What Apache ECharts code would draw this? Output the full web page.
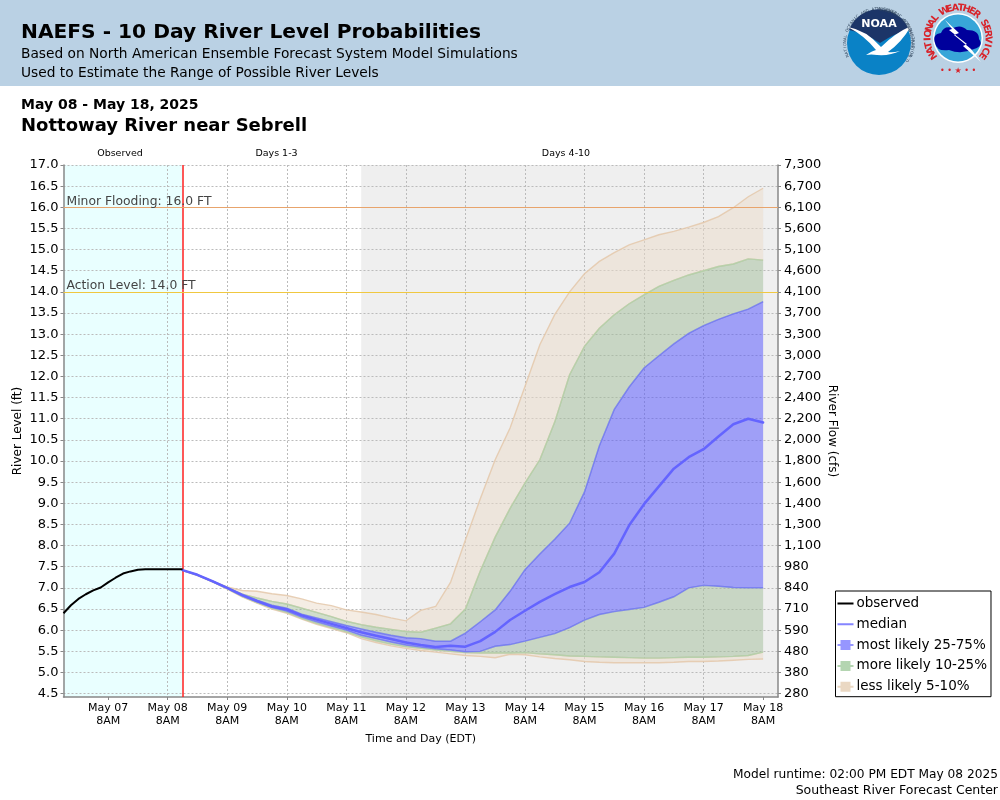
<!DOCTYPE html>
<html>
<head>
<meta charset="utf-8">
<title>NAEFS River Level Probabilities</title>
<style>
	html,body{margin:0;padding:0;background:#fff;}
	#chart{width:1000px;height:800px;}
</style>
<script src="https://cdn.jsdelivr.net/npm/echarts@6/dist/echarts.min.js"></script>
</head>
<body>
<div id="chart"></div>
<script>
// x values are hours after May 06 2PM
var dayTicks = [18,42,66,90,114,138,162,186,210,234,258,282];
var dayLabels = ['May 07','May 08','May 09','May 10','May 11','May 12','May 13','May 14','May 15','May 16','May 17','May 18'];

var levelTicks = [17,16.5,16,15.5,15,14.5,14,13.5,13,12.5,12,11.5,11,10.5,10,9.5,9,8.5,8,7.5,7,6.5,6,5.5,5,4.5];
var flowLabels = ['7,300','6,700','6,100','5,600','5,100','4,600','4,100','3,700','3,300','3,000','2,700','2,400','2,200','2,000','1,800','1,600','1,400','1,300','1,100','980','840','710','590','480','380','280'];

var obsHours = [0,3,6,9,12,15,18,21,24,27,30,33,36,39,42,45,48];
var obsLevel = [6.40,6.59,6.74,6.85,6.94,7.01,7.13,7.24,7.34,7.39,7.43,7.44,7.44,7.44,7.44,7.44,7.44];

var fcstHours = [48,54,60,66,72,78,84,90,96,102,108,114,120,126,132,138,144,150,156,162,168,174,180,186,192,198,204,210,216,222,228,234,240,246,252,258,264,270,276,282];
var median = [7.42,7.31,7.16,7.00,6.83,6.69,6.56,6.49,6.35,6.25,6.15,6.05,5.95,5.87,5.79,5.71,5.65,5.60,5.63,5.61,5.74,5.96,6.24,6.46,6.67,6.85,7.02,7.14,7.37,7.81,8.48,8.98,9.40,9.82,10.09,10.28,10.58,10.87,11.00,10.91];
var p5 = [7.41,7.29,7.14,6.97,6.79,6.64,6.50,6.40,6.26,6.14,6.04,5.94,5.80,5.71,5.63,5.57,5.52,5.48,5.44,5.40,5.38,5.35,5.43,5.42,5.37,5.33,5.30,5.26,5.24,5.23,5.23,5.23,5.23,5.24,5.26,5.26,5.27,5.29,5.31,5.32];
var p10 = [7.41,7.30,7.15,6.98,6.80,6.65,6.52,6.42,6.28,6.16,6.06,5.96,5.84,5.75,5.67,5.61,5.57,5.53,5.50,5.47,5.46,5.46,5.46,5.47,5.44,5.42,5.39,5.38,5.37,5.36,5.35,5.34,5.34,5.35,5.36,5.36,5.37,5.38,5.40,5.48];
var p25 = [7.42,7.30,7.15,6.99,6.81,6.67,6.54,6.45,6.31,6.20,6.10,6.00,5.88,5.80,5.72,5.65,5.60,5.56,5.53,5.49,5.50,5.62,5.66,5.74,5.83,5.92,6.06,6.24,6.37,6.44,6.49,6.54,6.66,6.79,7.00,7.06,7.04,7.01,7.00,7.00];
var p75 = [7.42,7.31,7.16,7.00,6.85,6.71,6.59,6.52,6.38,6.29,6.20,6.11,6.03,5.95,5.88,5.82,5.80,5.74,5.74,5.93,6.20,6.48,6.92,7.43,7.80,8.15,8.53,9.27,10.36,11.22,11.75,12.20,12.49,12.77,13.02,13.20,13.35,13.48,13.59,13.77];
var p90 = [7.42,7.31,7.16,7.01,6.85,6.76,6.68,6.62,6.52,6.42,6.32,6.21,6.13,6.07,6.02,5.97,5.95,6.05,6.15,6.50,7.40,8.20,8.88,9.48,10.03,10.92,12.04,12.71,13.14,13.46,13.72,13.93,14.13,14.27,14.40,14.50,14.60,14.66,14.78,14.75];
var p95 = [7.42,7.31,7.16,7.02,6.94,6.92,6.86,6.82,6.74,6.64,6.58,6.48,6.43,6.37,6.29,6.22,6.47,6.56,7.13,8.13,9.11,10.03,10.78,11.76,12.75,13.46,14.00,14.43,14.72,14.93,15.11,15.23,15.35,15.43,15.53,15.64,15.78,15.99,16.25,16.45];

var FONT = '"DejaVu Sans"';
var COLOR_BLUE = 'rgba(80,80,255,0.5)';
var COLOR_GREEN = 'rgba(161,189,153,0.5)';
var COLOR_TAN = 'rgba(235,219,201,0.5)';

var LINE_ICON = 'path://M0,0h.01v.01h-.01z M0,11.99h.01v.01h-.01z M0,5h16v2h-16z';
var BOX_ICON = 'path://M0,0h.01v.01h-.01z M0,11.99h.01v.01h-.01z M0,5h3v2h-3z M3,1h10v10h-10z M13,5h3v2h-3z';

var chartDom = document.getElementById('chart');
var myChart = echarts.init(chartDom);

//one shaded band between a low and a high array
function bandSeries(name, low, high, fill, stroke){
	var rows = fcstHours.map(function(hour, i){
		return [hour, low[i], high[i]];
	});
	return {
		name: name,
		type: 'custom',
		z: 2,
		silent: true,
		encode: {x: 0, y: [1, 2]},
		data: rows,
		renderItem: function(params, api){
			if(params.dataIndex !== 0){
				return null;
			}
			var lowPts = rows.map(function(r){ return api.coord([r[0], r[1]]); });
			var highPts = rows.map(function(r){ return api.coord([r[0], r[2]]); });
			return {
				type: 'group',
				children: [
					{type: 'polygon', shape: {points: highPts.concat(lowPts.slice().reverse())}, style: {fill: fill}},
					{type: 'polyline', shape: {points: highPts}, style: {fill: 'none', stroke: stroke, lineWidth: 1.4}},
					{type: 'polyline', shape: {points: lowPts}, style: {fill: 'none', stroke: stroke, lineWidth: 1.4}}
				]
			};
		}
	};
}

function pairs(xs, ys){
	return xs.map(function(x, i){ return [x, ys[i]]; });
}

function textEl(str, x, y, size, opts){
	opts = opts || {};
	return {
		type: 'text',
		x: x,
		y: y,
		silent: true,
		z: 20,
		style: {
			text: str,
			font: (opts.bold ? 'bold ' : '') + size + 'px ' + FONT,
			fill: opts.color || '#000',
			textAlign: opts.align || 'left',
			textVerticalAlign: 'middle'
		}
	};
}

//logo outlines, registered so the graphic component can use them by name
function logoShape(name, pathData, fill){
	echarts.graphic.registerShape(name, echarts.graphic.extendPath(pathData, {}));
	return {type: name, style: {fill: fill}, z: 21, silent: true};
}

//letters set one by one on a circle, angles in degrees from 12 o'clock
function ringText(str, cx, cy, r, startDeg, stepDeg, size, color, bold, inward){
	return str.split('').map(function(ch, i){
		var deg = startDeg + stepDeg * i;
		var rad = deg * Math.PI / 180;
		return {
			type: 'text',
			x: cx + r * Math.sin(rad),
			y: cy - r * Math.cos(rad),
			rotation: (inward ? 180 - deg : -deg) * Math.PI / 180,
			silent: true,
			z: 22,
			style: {
				text: ch,
				font: (bold ? 'bold ' : '') + size + 'px ' + FONT,
				fill: color,
				textAlign: 'center',
				textVerticalAlign: 'middle'
			}
		};
	});
}

function logos(){
	var nx = 879, ny = 43, wx = 958, wy = 38;
	var els = [
		//NOAA
		{type: 'circle', shape: {cx: nx, cy: ny, r: 32}, style: {fill: '#0a82c6'}, silent: true},
		logoShape('noaaSky', 'M849,30 A32,32 0 0 1 909,30 Q895,33 880,43 Q865,33 849,30 Z', '#1c3568'),
		logoShape('noaaBird', 'M848,27 Q866,30 881,47 Q895,33 911,26 Q902,42 888,52 Q892,53 900,51 Q890,56 877,55 Q871,54 866,55 Q872,51 876,50 Q865,36 848,27 Z', '#fff'),
		textEl('NOAA', nx, 24, 11, {bold: true, color: '#fff', align: 'center'}),
		//NWS
		{type: 'circle', shape: {cx: wx, cy: wy, r: 25}, style: {fill: '#fff'}, silent: true},
		{type: 'circle', shape: {cx: wx, cy: wy, r: 23.5}, style: {fill: '#38a6d8'}, silent: true},
		logoShape('nwsCloud', 'M935,43 Q932,34 941,33 Q944,25 953,28 Q961,24 967,30 Q979,30 979,39 Q984,46 974,49 Q961,55 949,50 Q937,52 935,43 Z', '#00009c'),
		logoShape('nwsBolt', 'M945,20 L959,33 L954,35 L971,49 L981,62 L963,46 L967,44 L949,30 L952,29 Z', '#fff'),
		textEl('• • ★ • •', wx, 71, 8, {color: '#d8232a', align: 'center'})
	];
	els.forEach(function(el){ el.z = 21; });
	els = els.concat(ringText('NATIONAL OCEANIC AND ATMOSPHERIC ADMINISTRATION', nx, ny, 34, -112, 4.85, 4, '#33485f', false, false));
	els = els.concat(ringText('U.S. DEPARTMENT OF COMMERCE', nx, ny, 34, 122, -4.6, 4, '#33485f', false, true));
	els = els.concat(ringText('NATIONAL WEATHER SERVICE', wx, wy, 30, -125, 10.9, 9.5, '#d8232a', true, false));
	return els;
}

var graphicEls = [
	{type: 'rect', shape: {x: 0, y: 0, width: 1000, height: 86}, style: {fill: '#bad1e4'}, z: 19, silent: true},
	textEl('NAEFS - 10 Day River Level Probabilities', 21, 33, 20.2, {bold: true}),
	textEl('Based on North American Ensemble Forecast System Model Simulations', 21, 54, 13.75),
	textEl('Used to Estimate the Range of Possible River Levels', 21, 73, 13.75),
	textEl('May 08 - May 18, 2025', 21, 105.5, 14, {bold: true}),
	textEl('Nottoway River near Sebrell', 21, 126, 18, {bold: true}),
	textEl('Observed', 120, 154, 9.5, {align: 'center'}),
	textEl('Days 1-3', 276.5, 154, 9.5, {align: 'center'}),
	textEl('Days 4-10', 566, 154, 9.5, {align: 'center'}),
	textEl('Model runtime: 02:00 PM EDT May 08 2025', 998, 775, 12.2, {align: 'right'}),
	textEl('Southeast River Forecast Center', 998, 791, 12.5, {align: 'right'})
].concat(logos());

var option = {
	animation: false,
	backgroundColor: '#fff',
	textStyle: {fontFamily: FONT},
	grid: {left: 63.5, right: 222, top: 165, bottom: 103, outerBoundsMode: 'none'},
	xAxis: {
		type: 'value',
		min: 0,
		max: 288,
		name: 'Time and Day (EDT)',
		nameLocation: 'middle',
		nameGap: 37,
		nameMoveOverlap: false,
		nameTextStyle: {fontSize: 11, color: '#000', fontFamily: FONT},
		axisLine: {lineStyle: {color: '#888', width: 1.5}},
		axisTick: {customValues: dayTicks, length: 3, lineStyle: {color: '#888'}},
		axisLabel: {
			customValues: dayTicks,
			color: '#000',
			fontSize: 11,
			lineHeight: 13,
			margin: 5,
			formatter: function(value){
				return dayLabels[dayTicks.indexOf(value)] + '\n8AM';
			}
		},
		splitLine: {show: true, showMinLine: false, showMaxLine: false, lineStyle: {color: '#bbb', type: [2, 2], width: 1}}
	},
	yAxis: [{
		type: 'value',
		min: 4.42,
		max: 17,
		name: 'River Level (ft)',
		nameLocation: 'middle',
		nameGap: 39.5,
		nameMoveOverlap: false,
		nameTextStyle: {fontSize: 12, color: '#000', fontFamily: FONT},
		axisLine: {show: true, lineStyle: {color: '#888', width: 1.5}},
		axisTick: {show: true, customValues: levelTicks, length: 3, lineStyle: {color: '#888'}},
		axisLabel: {
			customValues: levelTicks,
			color: '#000',
			fontSize: 13,
			margin: 5,
			padding: [4, 0, 0, 0],
			formatter: function(value){
				return value.toFixed(1);
			}
		},
		splitLine: {show: true, lineStyle: {color: '#bbb', type: [2, 2], width: 1}}
	},{
		type: 'value',
		min: 4.42,
		max: 17,
		position: 'right',
		name: 'River Flow (cfs)',
		nameLocation: 'middle',
		nameRotate: -90,
		nameGap: 48,
		nameMoveOverlap: false,
		nameTextStyle: {fontSize: 12, color: '#000', fontFamily: FONT},
		axisLine: {show: true, lineStyle: {color: '#888', width: 1.5}},
		axisTick: {show: true, customValues: levelTicks, length: 3, lineStyle: {color: '#888'}},
		axisLabel: {
			customValues: levelTicks,
			color: '#000',
			fontSize: 13,
			margin: 6,
			padding: [4, 0, 0, 0],
			formatter: function(value){
				return flowLabels[levelTicks.indexOf(value)];
			}
		},
		splitLine: {show: false}
	}],
	legend: {
		left: 835.5,
		top: 591,
		orient: 'vertical',
		padding: [5.5, 4, 3, 2],
		itemGap: 6.8,
		itemWidth: 16,
		itemHeight: 12,
		backgroundColor: '#fff',
		borderColor: '#000',
		borderWidth: 1,
		borderRadius: 0,
		selectedMode: false,
		textStyle: {fontSize: 13.5, color: '#000', fontFamily: FONT, padding: [0, 0, 0, -2]},
		data: [
			{name: 'observed', icon: LINE_ICON, itemStyle: {color: '#000'}},
			{name: 'median', icon: LINE_ICON, itemStyle: {color: 'rgba(102,102,255,0.8)'}},
			{name: 'most likely 25-75%', icon: BOX_ICON, itemStyle: {color: 'rgba(80,80,255,0.6)'}},
			{name: 'more likely 10-25%', icon: BOX_ICON, itemStyle: {color: 'rgba(140,190,135,0.65)'}},
			{name: 'less likely 5-10%', icon: BOX_ICON, itemStyle: {color: 'rgba(225,200,170,0.7)'}}
		]
	},
	graphic: {elements: graphicEls},
	series: [
		{
			//period shading sits under the grid lines
			name: 'periods',
			type: 'line',
			z: -1,
			silent: true,
			data: [],
			markArea: {
				silent: true,
				z: -1,
				data: [
					[{xAxis: 0, itemStyle: {color: '#e9ffff'}}, {xAxis: 48}],
					[{xAxis: 120, itemStyle: {color: '#efefef'}}, {xAxis: 288}]
				]
			}
		},
		{
			//forecast start
			name: 'now',
			type: 'line',
			z: 4,
			silent: true,
			data: [],
			markLine: {
				silent: true,
				symbol: 'none',
				animation: false,
				label: {show: false},
				lineStyle: {color: '#ff2020', width: 1.5, type: 'solid'},
				data: [{xAxis: 48}]
			}
		},
		bandSeries('less likely 5-10%', p90, p95, COLOR_TAN, 'rgba(228,200,170,0.85)'),
		bandSeries('less likely 5-10%', p5, p10, COLOR_TAN, 'rgba(228,200,170,0.85)'),
		bandSeries('more likely 10-25%', p75, p90, COLOR_GREEN, 'rgba(175,210,170,0.8)'),
		bandSeries('more likely 10-25%', p10, p25, COLOR_GREEN, 'rgba(175,210,170,0.8)'),
		bandSeries('most likely 25-75%', p25, p75, COLOR_BLUE, 'rgba(110,110,255,0.7)'),
		{
			name: 'median',
			type: 'line',
			z: 5,
			silent: true,
			showSymbol: false,
			data: pairs(fcstHours, median),
			lineStyle: {color: '#6464ff', width: 2.5, cap: 'round'},
			itemStyle: {color: '#6464ff'},
			markLine: {
				silent: true,
				symbol: 'none',
				animation: false,
				data: [
					{yAxis: 16, lineStyle: {color: '#e8a46c', width: 1, type: 'solid'}, label: {formatter: 'Minor Flooding: 16.0 FT'}},
					{yAxis: 14, lineStyle: {color: '#f0c840', width: 1, type: 'solid'}, label: {formatter: 'Action Level: 14.0 FT'}}
				],
				label: {position: 'insideStartTop', color: '#444', fontSize: 12.35, fontFamily: FONT, distance: [3, 0]}
			}
		},
		{
			name: 'observed',
			type: 'line',
			z: 6,
			silent: true,
			showSymbol: false,
			data: pairs(obsHours, obsLevel),
			lineStyle: {color: '#000', width: 2},
			itemStyle: {color: '#000'}
		}
	]
};

myChart.setOption(option);
</script>
</body>
</html>
